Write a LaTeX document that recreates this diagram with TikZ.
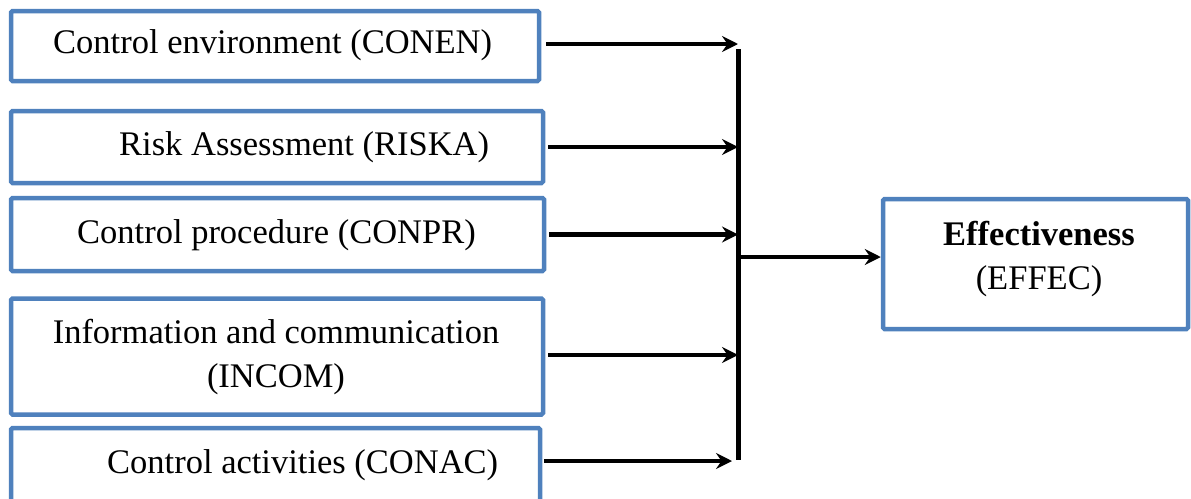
\documentclass[tikz,border=0pt]{standalone}
\usepackage{fontspec}
\setmainfont{Liberation Serif}
\usetikzlibrary{arrows.meta,calc}
\definecolor{boxblue}{HTML}{4F81BD}
\begin{document}
\begin{tikzpicture}[x=1pt,y=-1pt,
  box/.style={draw=boxblue,line width=4.5pt,fill=white,rounded corners=1.5pt,
    rectangle,inner sep=0pt},
  txt/.style={inner sep=0pt,font=\fontsize{34.5}{44}\selectfont},
  arr/.style={line width=4.5pt,-{Stealth[length=16pt,width=16pt,inset=5.5pt]}},
  busline/.style={line width=5pt}]
\useasboundingbox (0,0) rectangle (1191,498);
\clip (0,0) rectangle (1191,498);

% input factor boxes
\node[box,minimum width=528pt,minimum height=70pt]  (conen) at (275,46)    {};
\node[box,minimum width=532pt,minimum height=72pt]  (riska) at (277,147)   {};
\node[box,minimum width=533pt,minimum height=73pt]  (conpr) at (277.5,234.5) {};
\node[box,minimum width=532pt,minimum height=116pt] (incom) at (277,356.5) {};
\node[box,minimum width=529pt,minimum height=74pt]  (conac) at (275.5,465) {};

% outcome box
\node[box,minimum width=305pt,minimum height=130pt] (effec) at (1035.5,264) {};

% labels
\node[txt,anchor=base west] (conen-t) at (53,53)   {Control environment (CONEN)};
\node[txt,anchor=base west] (riska-t) at (119,155) {Risk Assessment (RISKA)};
\node[txt,anchor=base west] (conpr-t) at (77,243)  {Control procedure (CONPR)};
\node[txt,anchor=base]      (incom-t1) at (276,343) {Information and communication};
\node[txt,anchor=base]      (incom-t2) at (276,387) {(INCOM)};
\node[txt,anchor=base west] (conac-t) at (107,473) {Control activities (CONAC)};
\node[txt,anchor=base]      (effec-t1) at (1039,245) {\textbf{Effectiveness}};
\node[txt,anchor=base]      (effec-t2) at (1039,289) {(EFFEC)};

% collecting bus
\coordinate (bustop) at (738,49);
\coordinate (busbot) at (738,460);
\coordinate (hub)    at (738,257);
\draw[busline] (bustop) -- (busbot);

% arrow start points on the box edges
\coordinate (s1) at ($(conen.east)+(0,-2)$);
\coordinate (s2) at (riska.east);
\coordinate (s3) at (conpr.east);
\coordinate (s4) at ($(incom.east)+(0,-1.5)$);
\coordinate (s5) at ($(conac.east)+(0,-4)$);

% factor arrows into the bus
\draw[arr,shorten <=5pt] (s1) -- (s1 -| bustop);
\draw[arr,shorten <=3pt] (s2) -- (s2 -| bustop);
\draw[arr,shorten <=3pt] (s3) -- (s3 -| bustop);
\draw[arr,shorten <=3pt] (s4) -- (s4 -| bustop);
\draw[arr,shorten <=2pt,shorten >=6pt] (s5) -- (s5 -| bustop);

% bus to outcome
\draw[arr,shorten <=2pt] (hub) -- (hub -| effec.west);
\end{tikzpicture}
\end{document}
